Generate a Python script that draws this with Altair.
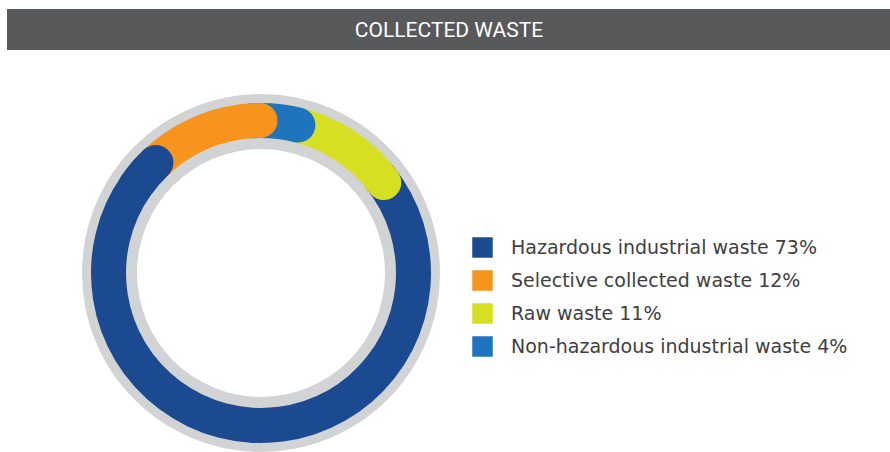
import math
import altair as alt
import pandas as pd

# Waste categories, their shares (%) and colours
categories = [
    "Hazardous industrial waste",
    "Selective collected waste",
    "Raw waste",
    "Non-hazardous industrial waste",
]
shares = [73, 12, 11, 4]
colors = ["#1b4a91", "#f7941e", "#d7df23", "#1f75bd"]

# Clockwise sequence of the segments around the ring
ring_order = [
    "Selective collected waste",
    "Non-hazardous industrial waste",
    "Raw waste",
    "Hazardous industrial waste",
]
title_text = "COLLECTED WASTE"

labels = [f"{c} {s}%" for c, s in zip(categories, shares)]
share_of = dict(zip(categories, shares))
label_of = dict(zip(categories, labels))

# Geometry of the ring
CX, CY = 261, 273
START_DEG = -37      # where the first segment begins (clockwise from 12 o'clock)
OVERLAP_DEG = 16     # each segment tucks under the rounded end of the previous one
R_OUT, R_IN = 170, 135

segments = []
angle = START_DEG
for name in ring_order:
    end = angle + share_of[name] * 3.6
    segments.append(dict(label=label_of[name],
                         start=math.radians(angle - OVERLAP_DEG),
                         end=math.radians(end)))
    angle = end

# Draw from the last segment to the first so every rounded end sits on top of
# the following segment; the tail of the last segment is repeated on top so
# that its rounded end covers the start of the first one.
draw = list(reversed(segments))
tail = dict(draw[0])
tail["start"] = tail["end"] - math.radians(25)
draw.append(tail)
seg_df = pd.DataFrame(draw)

one = pd.DataFrame({"k": [0]})

header = alt.Chart(one).mark_rect(color="#58595b").encode(
    x=alt.value(7), x2=alt.value(890), y=alt.value(9), y2=alt.value(50)
)
header_text = alt.Chart(one).mark_text(
    text=title_text, color="#ffffff", font="Roboto", fontSize=21,
    align="center", baseline="middle"
).encode(x=alt.value(449), y=alt.value(31))

track = alt.Chart(one).mark_arc(
    theta=0, theta2=2 * math.pi, color="#d1d3d4"
).encode(
    x=alt.value(CX), y=alt.value(CY),
    radius=alt.value(179), radius2=alt.value(124)
)

ring = alt.Chart(seg_df).mark_arc(cornerRadius=17.5).encode(
    x=alt.value(CX), y=alt.value(CY),
    theta=alt.Theta("start:Q", scale=None, stack=None),
    theta2="end:Q",
    radius=alt.value(R_OUT), radius2=alt.value(R_IN),
    color=alt.Color(
        "label:N",
        scale=alt.Scale(domain=labels, range=colors),
        legend=alt.Legend(
            title=None, orient="none", legendX=472, legendY=237,
            symbolType="square", symbolSize=420, symbolStrokeWidth=0,
            labelFont="DejaVu Sans", labelFontSize=19, labelColor="#404041",
            labelOffset=18, rowPadding=12, labelLimit=500,
        ),
    ),
)

chart = alt.layer(header, header_text, track, ring).properties(
    width=890, height=452, autosize="none", padding=0
).configure_view(stroke=None)

chart.save("out.html", embed_options={"renderer": "svg", "actions": False})
